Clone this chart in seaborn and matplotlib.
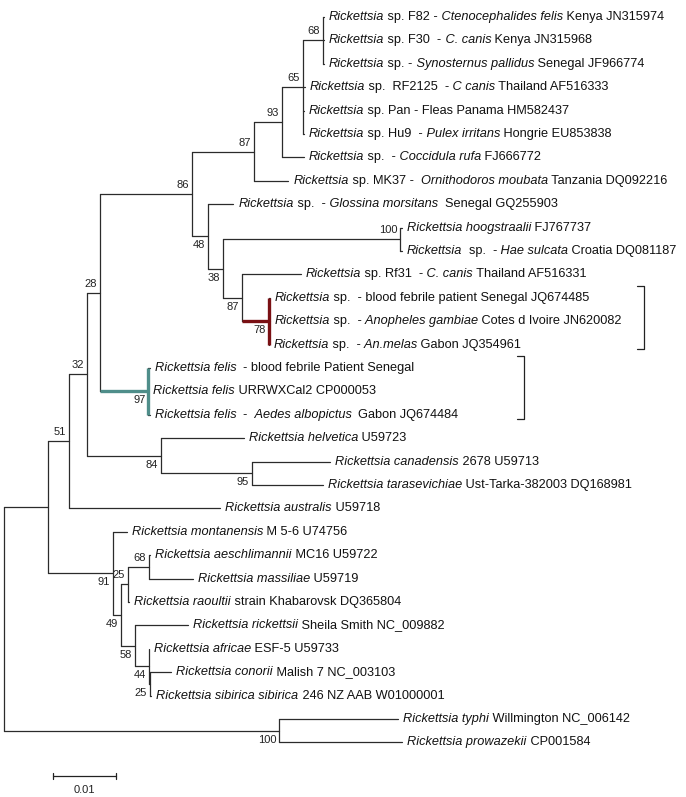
import numpy as np
import pandas as pd
import matplotlib
matplotlib.use("Agg")
import matplotlib.pyplot as plt
import seaborn as sns

# internal nodes: name, parent, branch length (subst./site), bootstrap support
node_names = ["root", "ingroup", "n51", "n32", "n28", "n86", "n87a", "n93", "n65", "n68a",
              "n48", "n38", "n100a", "n87b", "n78", "n97", "n84", "n95",
              "n91", "n49", "n25a", "n68b", "n58", "n44", "n25b", "n100b"]
node_parent = [None, "root", "ingroup", "n51", "n32", "n28", "n86", "n87a", "n93", "n65",
               "n86", "n48", "n38", "n38", "n87b", "n28", "n32", "n84",
               "ingroup", "n91", "n49", "n25a", "n49", "n58", "n44", "root"]
node_branch = [0.0, 0.0070, 0.0033, 0.0029, 0.0021, 0.0146, 0.0098, 0.0044, 0.0033, 0.0032,
               0.0025, 0.0024, 0.0281, 0.0029, 0.0043, 0.0076, 0.0117, 0.0144,
               0.0103, 0.0013, 0.0011, 0.0033, 0.0022, 0.0022, 0.0002, 0.0437]
node_support = [None, None, 51, 32, 28, 86, 87, 93, 65, 68,
                48, 38, 100, 87, 78, 97, 84, 95,
                91, 49, 25, 68, 58, 44, 25, 100]

# leaves, top to bottom (*...* = italic)
leaf_labels = [
    "*Rickettsia* sp. F82 - *Ctenocephalides felis* Kenya JN315974",
    "*Rickettsia* sp. F30  - *C. canis* Kenya JN315968",
    "*Rickettsia* sp. - *Synosternus pallidus* Senegal JF966774",
    "*Rickettsia* sp.  RF2125  - *C canis* Thailand AF516333",
    "*Rickettsia* sp. Pan - Fleas Panama HM582437",
    "*Rickettsia* sp. Hu9  - *Pulex irritans* Hongrie EU853838",
    "*Rickettsia* sp.  - *Coccidula rufa* FJ666772",
    "*Rickettsia* sp. MK37 -  *Ornithodoros moubata* Tanzania DQ092216",
    "*Rickettsia* sp.  - *Glossina morsitans*  Senegal GQ255903",
    "*Rickettsia hoogstraalii* FJ767737",
    "*Rickettsia*  sp.  - *Hae sulcata* Croatia DQ081187",
    "*Rickettsia* sp. Rf31  - *C. canis* Thailand AF516331",
    "*Rickettsia* sp.  - blood febrile patient Senegal JQ674485",
    "*Rickettsia* sp.  - *Anopheles gambiae* Cotes d Ivoire JN620082",
    "*Rickettsia* sp.  - *An.melas* Gabon JQ354961",
    "*Rickettsia felis*  - blood febrile Patient Senegal",
    "*Rickettsia felis* URRWXCal2 CP000053",
    "*Rickettsia felis*  -  *Aedes albopictus*  Gabon JQ674484",
    "*Rickettsia helvetica* U59723",
    "*Rickettsia canadensis* 2678 U59713",
    "*Rickettsia tarasevichiae* Ust-Tarka-382003 DQ168981",
    "*Rickettsia australis* U59718",
    "*Rickettsia montanensis* M 5-6 U74756",
    "*Rickettsia aeschlimannii* MC16 U59722",
    "*Rickettsia massiliae* U59719",
    "*Rickettsia raoultii* strain Khabarovsk DQ365804",
    "*Rickettsia rickettsii* Sheila Smith NC_009882",
    "*Rickettsia africae* ESF-5 U59733",
    "*Rickettsia conorii* Malish 7 NC_003103",
    "*Rickettsia sibirica sibirica* 246 NZ AAB W01000001",
    "*Rickettsia typhi* Willmington NC_006142",
    "*Rickettsia prowazekii* CP001584",
]
leaf_parent = ["n68a", "n68a", "n68a", "n65", "n65", "n65", "n93", "n87a", "n48",
               "n100a", "n100a", "n87b", "n78", "n78", "n78", "n97", "n97", "n97",
               "n84", "n95", "n95", "n51", "n91", "n68b", "n68b", "n25a", "n58",
               "n44", "n25b", "n25b", "n100b", "n100b"]
leaf_branch = [0.0002, 0.0002, 0.0002, 0.0003, 0.0002, 0.0002, 0.0035, 0.0054, 0.0040,
               0.0002, 0.0002, 0.0094, 0.0002, 0.0002, 0.0000, 0.0002, 0.0000, 0.0002,
               0.0132, 0.0125, 0.0113, 0.0240, 0.0022, 0.0002, 0.0070, 0.0002, 0.0084,
               0.0000, 0.0033, 0.0002, 0.0189, 0.0195]

# groups marked with a bracket on the right (first row, last row)
bracket_rows = [(12, 14), (15, 17)]
clade_colors = {"n78": "#7a1014", "n97": "#4f8e8a"}
scale_length = 0.01
scale_label = "0.01"

W, H = 686, 797
PX = 6300.0          # pixels per unit of branch length
X0 = 4               # root position (px)
ROW0, ROWH = 17, 23.4
FS = 9.2
BRACKET_PX = [644, 524]

# ---- tree layout ----
parent = dict(zip(node_names, node_parent))
blen = dict(zip(node_names, node_branch))
support = dict(zip(node_names, node_support))
for i in range(len(leaf_labels)):
    parent[i] = leaf_parent[i]
    blen[i] = leaf_branch[i]

children = {n: [] for n in node_names}
for k, p in parent.items():
    if p is not None:
        children[p].append(k)

xpos = {}
def depth(n):
    if n not in xpos:
        xpos[n] = 0.0 if parent[n] is None else depth(parent[n]) + blen[n]
    return xpos[n]
for n in parent:
    depth(n)

ypos = {}
def height(n):
    if n not in ypos:
        if isinstance(n, int):
            ypos[n] = float(n)
        else:
            ys = [height(c) for c in children[n]]
            ypos[n] = (min(ys) + max(ys)) / 2
    return ypos[n]
for n in parent:
    height(n)

sns.set_theme(style="white")
plt.rcParams["font.family"] = ["Liberation Sans", "DejaVu Sans"]

fig = plt.figure(figsize=(W / 100, H / 100), dpi=100)
ax = fig.add_axes([0, 0, 1, 1])
ax.set_xlim(-X0 / PX, (W - X0) / PX)
ax.set_ylim((H - ROW0) / ROWH, -ROW0 / ROWH)

# black edges through seaborn: horizontal branch + vertical connector at each node
rows = []
e = 0
for n, p in parent.items():
    if p is None:
        continue
    rows += [(e, xpos[p], ypos[n]), (e, xpos[n], ypos[n])]
    e += 1
for n in node_names:
    ys = [ypos[c] for c in children[n]]
    rows += [(e, xpos[n], min(ys)), (e, xpos[n], max(ys))]
    e += 1
edges = pd.DataFrame(rows, columns=["edge", "x", "y"])
sns.lineplot(data=edges, x="x", y="y", units="edge", estimator=None, sort=False,
             color="#2b2b2b", lw=0.9, ax=ax)

# coloured clades
for n, col in clade_colors.items():
    ys = [ypos[c] for c in children[n]]
    ax.plot([xpos[parent[n]], xpos[n]], [ypos[n], ypos[n]], color=col, lw=2.4,
            solid_capstyle="butt")
    ax.plot([xpos[n], xpos[n]], [min(ys), max(ys)], color=col, lw=2.4,
            solid_capstyle="butt")

# bootstrap values
for n in node_names:
    if support[n] is None:
        continue
    sib = [ypos[c] for c in children[parent[n]]]
    above = ypos[n] == min(sib)
    ax.annotate(str(support[n]), (xpos[n], ypos[n]), xytext=(-3, 4 if above else -4),
                textcoords="offset pixels", ha="right",
                va="bottom" if above else "top", fontsize=8, color="#222222")

# leaf labels with mixed italic / roman pieces
def draw_label(x, y, label):
    pieces = label.split("*")
    parts, carry = [], ""
    for i, p in enumerate(pieces):
        p = carry + p
        s = p.rstrip(" ")
        carry = p[len(s):]
        if s:
            parts.append((s, i % 2 == 1))
    prev = None
    for txt, ital in parts:
        st = "italic" if ital else "normal"
        if prev is None:
            prev = ax.annotate(txt, (x, y), xytext=(5, 0), textcoords="offset pixels",
                               ha="left", va="center", fontsize=FS, fontstyle=st,
                               color="#111111")
        else:
            prev = ax.annotate(txt, xy=(1, 0), xycoords=prev, ha="left", va="bottom",
                               fontsize=FS, fontstyle=st, color="#111111")
    return prev

for i, lab in enumerate(leaf_labels):
    draw_label(xpos[i], ypos[i], lab)

# brackets marking the two groups
tick = 7 / PX
for (r0, r1), bpx in zip(bracket_rows, BRACKET_PX):
    bx = (bpx - X0) / PX
    top, bot = r0 - 12 / ROWH, r1 + 4 / ROWH
    ax.plot([bx - tick, bx, bx, bx - tick], [top, top, bot, bot], color="#222222", lw=0.9)

# scale bar
sx = (53 - X0) / PX
sy = (776 - ROW0) / ROWH
ax.plot([sx, sx + scale_length], [sy, sy], color="#222222", lw=0.9)
for xx in (sx, sx + scale_length):
    ax.plot([xx, xx], [sy - 3 / ROWH, sy + 3 / ROWH], color="#222222", lw=0.9)
ax.text(sx + scale_length / 2, sy + 14 / ROWH, scale_label, ha="center", va="center",
        fontsize=8, color="#222222")

ax.set_xlabel("")
ax.set_ylabel("")
ax.axis("off")
fig.savefig("out.png", dpi=100)
